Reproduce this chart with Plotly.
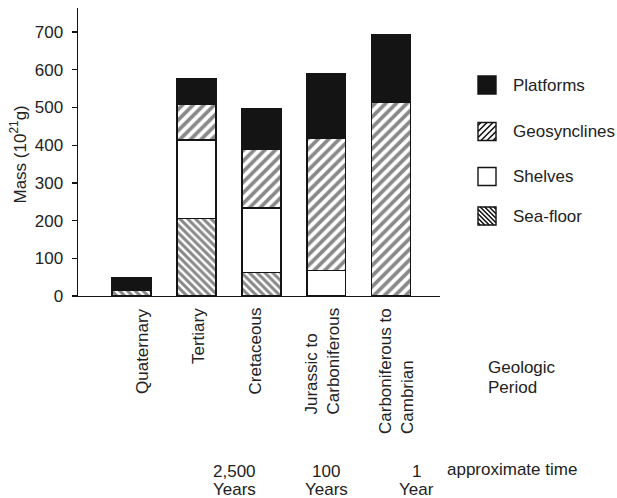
import plotly.graph_objects as go

# ---------------- data ----------------
categories = ["Quaternary", "Tertiary", "Cretaceous",
              "Jurassic to<br>Carboniferous", "Carboniferous to<br>Cambrian"]
sea_floor = [16, 205, 62, 0, 0]
shelves = [5, 209, 171, 67, 0]
geosynclines = [0, 95, 155, 351, 514]
platforms = [27, 68, 110, 172, 179]
y_ticks = [0, 100, 200, 300, 400, 500, 600, 700]
legend_names = ["Platforms", "Geosynclines", "Shelves", "Sea-floor"]
time_labels = ["2,500<br>Years", "100<br>Years", "1<br>Year"]

# ---------------- layout helpers ----------------
W, H = 617, 498
ML, MR, MT, MB = 78, 177, 8, 202
PW, PH = W - ML - MR, H - MT - MB
FONT = "Liberation Sans, Arial, Helvetica, sans-serif"
TXT = "#222222"
BLACK = "#141414"


def px(x):  # page pixel -> paper
    return (x - ML) / PW


def py(y):
    return (H - MB - y) / PH


fig = go.Figure()

series = [
    ("Sea-floor", sea_floor, dict(color="white", pattern=dict(shape="\\", fgcolor=BLACK, size=5.5, solidity=0.55))),
    ("Shelves", shelves, dict(color="white")),
    ("Geosynclines", geosynclines, dict(color="white", pattern=dict(shape="/", fgcolor=BLACK, size=7.5, solidity=0.5))),
    ("Platforms", platforms, dict(color=BLACK)),
]
for name, vals, mk in series:
    mk = dict(mk)
    mk["line"] = dict(color=BLACK, width=1.5)
    fig.add_trace(go.Bar(x=categories, y=vals, name=name, marker=mk, hoverinfo="skip"))

annotations = []
# category labels (rotated)
label_x = [142, 198, 255, 322, 396]
for cat, lx in zip(categories, label_x):
    annotations.append(dict(
        x=px(lx), xref="paper", y=py(306), yref="paper", text=cat, textangle=-90,
        xanchor="center", yanchor="top", align="left", showarrow=False,
        font=dict(family=FONT, size=17, color=TXT)))

# y axis title
annotations.append(dict(
    x=px(18.5), y=py(155), xref="paper", yref="paper",
    text="Mass (10<sup>21</sup>g)", textangle=-90, showarrow=False,
    xanchor="center", yanchor="middle", font=dict(family=FONT, size=17, color=TXT)))

# Geologic Period
for line, yc in zip(["Geologic", "Period"], [367, 387]):
    annotations.append(dict(
        x=px(486), y=py(yc), xref="paper", yref="paper", text=line,
        showarrow=False, xanchor="left", yanchor="middle",
        font=dict(family=FONT, size=17, color=TXT)))

# time labels
for lbl, xc in zip(time_labels, [234, 326, 416]):
    for line, yc in zip(lbl.split("<br>"), [471, 489]):
        annotations.append(dict(
            x=px(xc), y=py(yc), xref="paper", yref="paper", text=line,
            showarrow=False, xanchor="center", yanchor="middle",
            font=dict(family=FONT, size=17, color=TXT)))
annotations.append(dict(
    x=px(445), y=py(470), xref="paper", yref="paper", text="approximate time",
    showarrow=False, xanchor="left", yanchor="middle",
    font=dict(family=FONT, size=17, color=TXT)))

# custom legend
shapes = []
sq_x0, sq_x1 = 478, 496
leg_y = [85, 131.5, 176.5, 216]
leg_style = ["solid", "/", "none", "\\"]
for name, yc, style in zip(legend_names, leg_y, leg_style):
    y0, y1 = yc - 9, yc + 9
    fill = BLACK if style == "solid" else "white"
    shapes.append(dict(type="rect", xref="paper", yref="paper",
                       x0=px(sq_x0), x1=px(sq_x1), y0=py(y1), y1=py(y0),
                       fillcolor=fill, line=dict(color=BLACK, width=1.4), layer="above"))
    if style in ("/", "\\"):
        segs = []
        step = 6 if style == "/" else 4.5
        if style == "/":
            c = sq_x0 + y0 + step / 2
            while c < sq_x1 + y1:
                a = max(sq_x0, c - y1)
                b = min(sq_x1, c - y0)
                if b > a:
                    segs.append(f"M{px(a):.5f},{py(c - a):.5f} L{px(b):.5f},{py(c - b):.5f}")
                c += step
        else:
            c = sq_x0 - y1 + step / 2
            while c < sq_x1 - y0:
                a = max(sq_x0, y0 + c)
                b = min(sq_x1, y1 + c)
                if b > a:
                    segs.append(f"M{px(a):.5f},{py(a - c):.5f} L{px(b):.5f},{py(b - c):.5f}")
                c += step
        shapes.append(dict(type="path", xref="paper", yref="paper", path=" ".join(segs),
                           line=dict(color=BLACK, width=1.6), layer="above"))
    annotations.append(dict(
        x=px(511), y=py(yc), xref="paper", yref="paper", text=name, showarrow=False,
        xanchor="left", yanchor="middle", font=dict(family=FONT, size=17, color=TXT)))

fig.update_layout(
    width=W, height=H, margin=dict(l=ML, r=MR, t=MT, b=MB, pad=0),
    paper_bgcolor="white", plot_bgcolor="white", barmode="stack", bargap=0.4,
    showlegend=False, annotations=annotations, shapes=shapes, hovermode=False,
    font=dict(family=FONT, size=17, color=TXT),
    xaxis=dict(type="category", range=[-0.828, 4.754], showline=True, linecolor=BLACK,
               linewidth=1.4, showticklabels=False, ticks="", showgrid=False, zeroline=False),
    yaxis=dict(range=[0, 764], tickvals=y_ticks, showline=True, linecolor=BLACK, linewidth=1.4,
               ticks="outside", ticklen=5, tickwidth=1.3, tickcolor=BLACK, showgrid=False,
               zeroline=False, ticklabelstandoff=5,
               tickfont=dict(family=FONT, size=17, color=TXT)),
)

# remove the default page margin so the 617x498 figure fills the window exactly
fig.write_html("out.html", config={"displayModeBar": False, "staticPlot": True},
               post_script="document.body.style.margin='0';document.body.style.overflow='hidden';")
